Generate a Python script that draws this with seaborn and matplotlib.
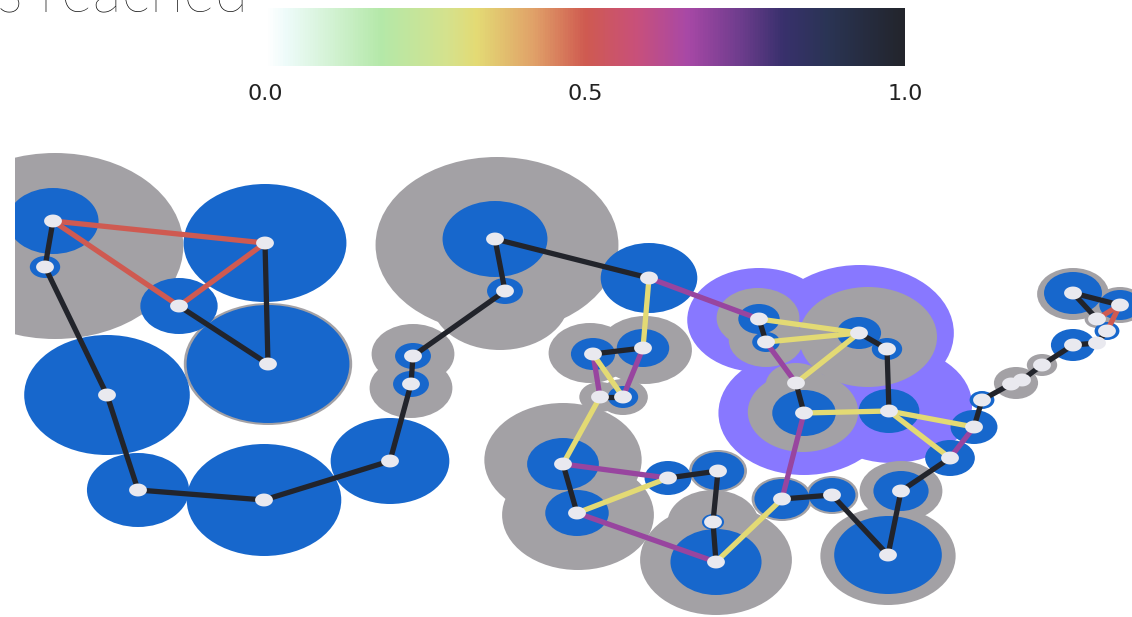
import matplotlib
matplotlib.use("Agg")
import numpy as np
import pandas as pd
import matplotlib.pyplot as plt
import seaborn as sns
from matplotlib.patches import Ellipse
from matplotlib.collections import LineCollection, PatchCollection
from matplotlib.colors import LinearSegmentedColormap, Normalize
from matplotlib.cm import ScalarMappable
from matplotlib.path import Path

# ---------------- data ----------------
title_text = "s reached"
cbar_ticks = [0.0, 0.5, 1.0]

node_names = ["A", "B", "C", "D", "E", "F", "G", "H", "I", "J", "K", "L", "M",
              "N", "O", "P", "Q", "Q2", "R", "S", "T", "U", "V", "W", "X", "Y",
              "Z", "AA", "AB", "AC", "AD", "AE", "AF", "AG", "AH", "AI", "AJ",
              "AK", "C1", "C2", "C3", "C4", "C5", "C6", "C7", "C8", "C9"]
node_x = [53, 45, 179, 265, 268, 107, 138, 264, 390, 411, 413, 495, 505,
          649, 593, 643, 600, 623, 563, 577, 668, 718, 713, 716, 759, 766,
          859, 887, 796, 804, 889, 974, 950, 782, 832, 901, 888,
          982, 1011, 1022, 1042, 1073, 1097, 1107, 1097, 1073, 1120]
node_y = [221, 267, 306, 243, 364, 395, 490, 500, 461, 384, 356, 239, 291,
          278, 354, 348, 397, 397, 464, 513, 478, 471, 522, 562, 319, 342,
          333, 349, 383, 413, 411, 427, 458, 499, 495, 491, 555,
          400, 384, 380, 365, 345, 343, 331, 319, 293, 305]
# reach radius of each node (0 = none)
node_r = [33, 11, 28, 59, 59, 60, 37, 56, 43, 13, 13, 38, 13,
          35, 16, 19, 0, 11, 26, 23, 17, 19, 8, 33, 15, 10,
          16, 11, 0, 23, 22, 17, 18, 20, 17, 20, 39,
          9, 0, 0, 0, 16, 0, 9, 0, 21, 15]

# second-order reach blobs
gray_x = [55, 411, 413, 497, 500, 590, 645, 600, 623, 563, 578, 718, 713, 716,
          758, 766, 868, 887, 796, 803, 782, 832, 901, 888, 1016, 1042, 1073,
          1120, 1097, 268]
gray_y = [246, 388, 354, 245, 300, 353, 350, 397, 397, 460, 515, 471, 523, 560,
          318, 340, 337, 349, 385, 412, 499, 495, 491, 556, 383, 365, 294,
          305, 319, 364]
gray_r = [93, 30, 30, 88, 50, 30, 34, 15, 18, 57, 55, 21, 33, 55,
          30, 27, 50, 24, 22, 40, 22, 19, 30, 49, 16, 11, 26,
          18, 9, 61]

# highlighted community
halo_x = [759, 860, 804, 892]
halo_y = [320, 333, 413, 405]
halo_r = [52, 68, 62, 58]

edge_src = ["A", "B", "F", "G", "H", "I", "J", "K", "M", "L",
            "A", "A", "C", "D", "C",
            "N", "N", "O", "O", "O", "P", "Q", "Q",
            "R", "R", "S", "T", "U", "V", "S", "W",
            "AG", "AG", "AH", "AJ", "AI", "AF", "AE",
            "AD", "AD", "AC", "AC", "AB", "AB", "X", "X", "Y", "Z", "AA",
            "AK", "C1", "C2", "C3", "C4", "C5", "C6", "C7", "C8", "C8"]
edge_dst = ["B", "F", "G", "H", "I", "J", "K", "M", "L", "N",
            "D", "C", "D", "E", "E",
            "X", "P", "P", "Q", "Q2", "Q2", "Q2", "R",
            "S", "T", "T", "U", "V", "W", "W", "AG",
            "AC", "AH", "AJ", "AI", "AF", "AE", "AK",
            "AE", "AF", "AD", "AB", "Y", "Z", "Y", "Z", "Z", "AA", "AD",
            "C1", "C2", "C3", "C4", "C5", "C6", "C9", "C9", "C7", "C9"]
edge_val = [1.0, 1.0, 1.0, 1.0, 1.0, 1.0, 1.0, 1.0, 1.0, 1.0,
            0.5, 0.5, 0.5, 1.0, 1.0,
            0.68, 0.33, 1.0, 0.68, 0.33, 0.68, 1.0, 0.33,
            1.0, 0.68, 0.33, 1.0, 1.0, 1.0, 0.68, 0.33,
            0.68, 1.0, 1.0, 1.0, 1.0, 0.68, 1.0,
            0.33, 0.33, 0.33, 1.0, 0.68, 0.33, 1.0, 0.33, 0.33, 1.0, 1.0,
            1.0, 1.0, 1.0, 1.0, 1.0, 1.0, 0.5, 0.5, 1.0, 1.0]

# ---------------- style ----------------
W, H = 1132, 617
STRETCH = 1.38
BLUE = "#1767CC"
GRAY = "#A3A1A5"
HALO = "#8878FF"
NODE = "#E9E9EF"

cmap = LinearSegmentedColormap.from_list("reach", [
    (0.00, "#FFFFFF"), (0.03, "#EEFBFA"), (0.18, "#B4E8A8"), (0.28, "#D3E28E"),
    (0.33, "#E3DA74"), (0.42, "#E0A068"), (0.50, "#CF5A50"), (0.58, "#C8507A"),
    (0.66, "#A848A6"), (0.745, "#6C3C8C"), (0.81, "#38306C"), (0.88, "#2A3454"),
    (1.00, "#22242B")])
norm = Normalize(0, 1)

sns.set_theme(style="white")
plt.rcParams["font.family"] = ["Lato", "DejaVu Sans"]

fig = plt.figure(figsize=(W / 100, H / 100), dpi=100)
fig.patch.set_facecolor("white")

ax = fig.add_axes([15 / W, 0, (W - 15) / W, (H - 100) / H])
ax.set_xlim(15, W)
ax.set_ylim(H, 100)
ax.axis("off")


def blobs(xs, ys, rs, color, z):
    patches = [Ellipse((x, y), 2 * r * STRETCH, 2 * r)
               for x, y, r in zip(xs, ys, rs) if r > 0]
    ax.add_collection(PatchCollection(patches, facecolor=color,
                                      edgecolor="none", zorder=z))


blobs(halo_x, halo_y, halo_r, HALO, 1)
blobs(gray_x, gray_y, gray_r, GRAY, 2)
blobs(node_x, node_y, node_r, BLUE, 3)

nodes = pd.DataFrame({"name": node_names, "x": node_x, "y": node_y})
pos = nodes.set_index("name")
segs = [[(pos.at[s, "x"], pos.at[s, "y"]), (pos.at[d, "x"], pos.at[d, "y"])]
        for s, d in zip(edge_src, edge_dst)]
lc = LineCollection(segs, cmap=cmap, norm=norm, linewidths=3.8,
                    capstyle="round", zorder=4)
lc.set_array(np.asarray(edge_val))
ax.add_collection(lc)

t = np.linspace(0, 2 * np.pi, 40)
oval = Path(np.column_stack([STRETCH * np.cos(t), np.sin(t)]), closed=True)
sns.scatterplot(data=nodes, x="x", y="y", ax=ax, marker=oval, s=165,
                color=NODE, edgecolor="none", linewidth=0, zorder=5,
                legend=False)
ax.set_xlim(15, W)
ax.set_ylim(H, 100)
ax.axis("off")

# colour bar
cax = fig.add_axes([265 / W, 1 - 66 / H, 640 / W, 58 / H])
cb = fig.colorbar(ScalarMappable(norm=norm, cmap=cmap), cax=cax,
                  orientation="horizontal", ticks=cbar_ticks)
cb.outline.set_visible(False)
cb.ax.set_xticks(cbar_ticks)
cb.ax.set_xticklabels([f"{v:.1f}" for v in cbar_ticks],
                      family=["DejaVu Sans"], fontsize=16, color="#222222")
cb.ax.tick_params(length=0, pad=13)

fig.text(-3 / W, 1 - 11 / H, title_text, fontsize=44, fontweight="light",
         color="#111111", va="baseline", ha="left")

fig.savefig("out.png", dpi=100)
